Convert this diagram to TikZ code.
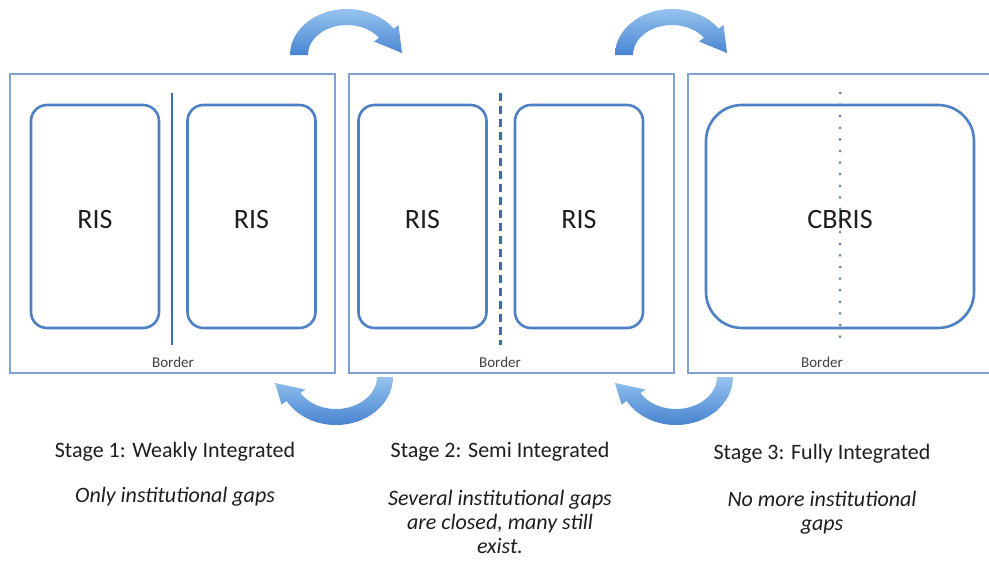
\documentclass[tikz,border=0pt]{standalone}
\usepackage{fontspec}
\setmainfont{Carlito}
\definecolor{framec}{RGB}{128,160,215}
\definecolor{boxc}{RGB}{78,128,196}
\definecolor{divc}{RGB}{62,106,178}
\definecolor{txtc}{RGB}{30,30,30}
\definecolor{arrowlight}{RGB}{150,195,240}
\definecolor{arrowdark}{RGB}{72,132,208}
\begin{document}
\begin{tikzpicture}[x=1pt,y=1pt,
  frame/.style={draw=framec, line width=1.6pt, minimum width=325pt, minimum height=299pt, inner sep=0pt},
  risbox/.style={draw=boxc, line width=2.6pt, rounded corners=16pt, minimum width=128pt, minimum height=223pt, inner sep=0pt},
  cbbox/.style={draw=boxc, line width=2.6pt, rounded corners=36pt, minimum width=268pt, minimum height=223pt, inner sep=0pt},
  bigtxt/.style={text=txtc, font=\fontsize{28}{32}\selectfont, inner sep=0pt},
  bordertxt/.style={text=txtc!85, font=\fontsize{15}{17}\selectfont, inner sep=0pt},
  stagetxt/.style={text=txtc, font=\fontsize{22}{26}\selectfont, inner sep=0pt},
  desctxt/.style={text=txtc, font=\fontsize{22}{24}\selectfont\itshape, align=center, inner sep=0pt},
  blockarrow/.style={top color=arrowlight, bottom color=arrowdark, draw=none}
]
\useasboundingbox (0,0) rectangle (989,-562);
\fill[white] (0,0) rectangle (989,-562);
\clip (0,0) rectangle (989,-562);

% frames
\node[frame] (f1) at (172.5,-223.5) {};
\node[frame] (f2) at (511.5,-223.5) {};
\node[frame] (f3) at (850.5,-223.5) {};

% stage 1
\node[risbox] (r1a) at (95,-216.5) {};
\node[bigtxt] (t1a) at (95,-220) {RIS};
\node[risbox] (r1b) at (251.5,-216.5) {};
\node[bigtxt] (t1b) at (251.5,-220) {RIS};
\coordinate (l1t) at (172,-93);
\coordinate (l1b) at (172,-345);
\draw[divc, line width=2.6pt] (l1t) -- (l1b);
\node[bordertxt] (b1) at (173,-362) {Border};

% stage 2
\node[risbox] (r2a) at (422.5,-216.5) {};
\node[bigtxt] (t2a) at (422.5,-220) {RIS};
\node[risbox] (r2b) at (579,-216.5) {};
\node[bigtxt] (t2b) at (579,-220) {RIS};
\coordinate (l2t) at (500,-93);
\coordinate (l2b) at (500,-345);
\draw[divc, line width=3pt, dash pattern=on 8pt off 5pt] (l2t) -- (l2b);
\node[bordertxt] (b2) at (500,-362) {Border};

% stage 3
\node[cbbox] (r3) at (840,-216.5) {};
\coordinate (l3t) at (840,-93);
\coordinate (l3b) at (840,-340);
\draw[divc!85, line width=3pt, line cap=round, dash pattern=on 0pt off 11.6pt] (l3t) -- (l3b);
\node[bigtxt] (t3) at (840,-220) {CBRIS};
\node[bordertxt] (b3) at (822,-362) {Border};

% top arrows (forward)
\foreach \dx in {0,325}{
\begin{scope}[xshift=\dx pt]
\shade[blockarrow] (290,-55) arc[start angle=180,end angle=35,x radius=57,y radius=46]
  -- (398.5,-25) -- (402,-53) -- (374,-41.5) -- (378.9,-37.8)
  arc[start angle=35,end angle=180,x radius=39,y radius=30] -- cycle;
\end{scope}}

% bottom arrows (backward)
\foreach \dx in {0,340}{
\begin{scope}[xshift=\dx pt]
\shade[blockarrow] (393,-377) arc[start angle=0,end angle=-150,x radius=57,y radius=48]
  -- (281.5,-404.5) -- (275,-383) -- (305.5,-389.5) -- (300.5,-393)
  arc[start angle=-150,end angle=0,x radius=41,y radius=32] -- cycle;
\end{scope}}

% captions
\node[stagetxt, anchor=base] (s1) at (175,-457) {Stage 1: Weakly Integrated};
\node[stagetxt, anchor=base] (s2) at (500,-457) {Stage 2: Semi Integrated};
\node[stagetxt, anchor=base] (s3) at (822,-459) {Stage 3: Fully Integrated};

\node[desctxt, anchor=base] (d1) at (175,-502) {Only institutional gaps};
\node[desctxt] (d2) at (500,-522) {Several institutional gaps\\are closed, many still\\exist.};
\node[desctxt] (d3) at (822,-513) {No more institutional\\gaps};
\end{tikzpicture}
\end{document}
